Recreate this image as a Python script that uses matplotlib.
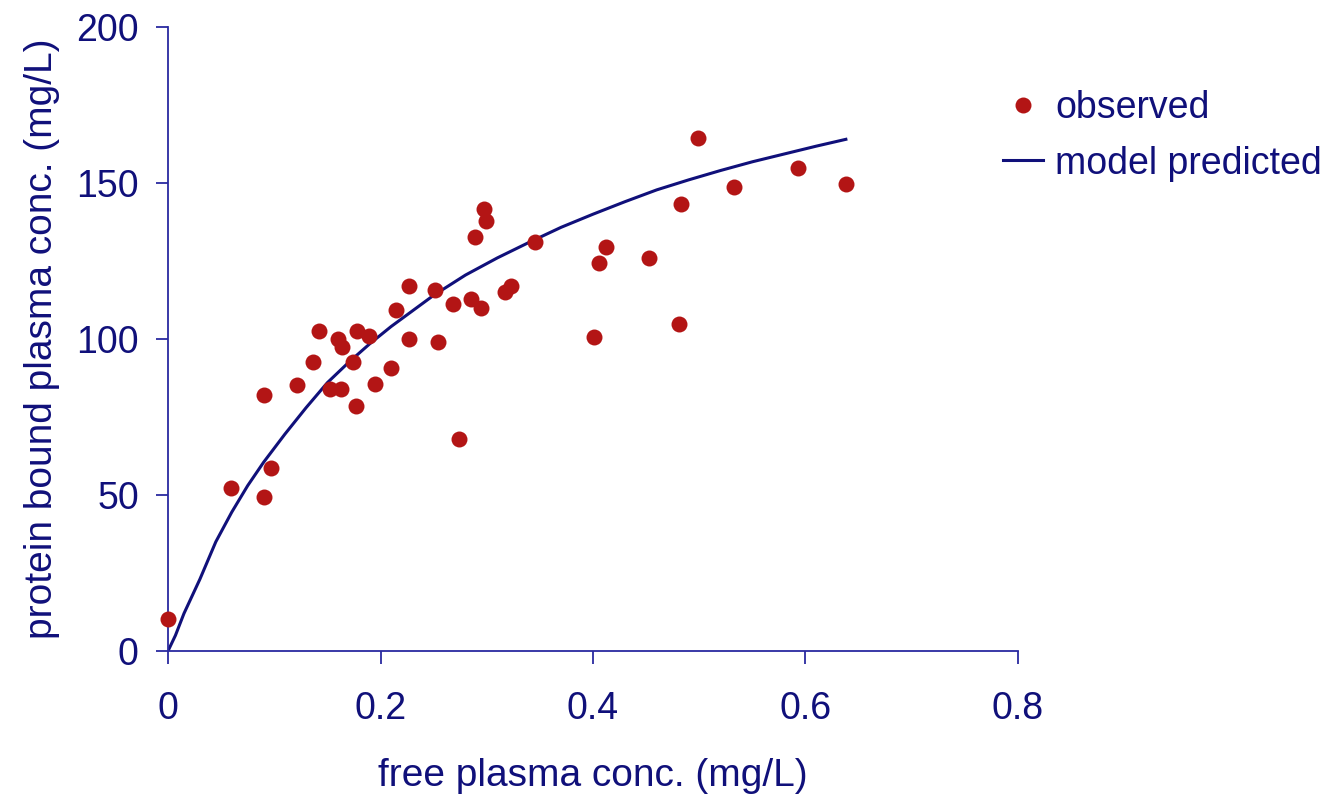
import matplotlib
matplotlib.use("Agg")
import matplotlib.pyplot as plt

# observed points: free conc (mg/L) vs protein bound conc (mg/L)
vaba_x = [0.0, 0.059, 0.090, 0.090, 0.097, 0.121, 0.136, 0.142, 0.152, 0.160,
          0.164, 0.163, 0.174, 0.178, 0.177, 0.189, 0.195, 0.210, 0.215, 0.227,
          0.227, 0.251, 0.254, 0.268, 0.274, 0.285, 0.289, 0.295, 0.297, 0.299,
          0.317, 0.323, 0.345, 0.401, 0.406, 0.412, 0.453, 0.481, 0.483, 0.499,
          0.533, 0.593, 0.638]
seotud_y = [10.3, 52.2, 82.0, 49.4, 58.7, 85.3, 92.6, 102.6, 84.0, 100.0,
            97.4, 84.0, 92.6, 102.6, 78.5, 101.0, 85.6, 90.7, 109.3, 117.0,
            100.0, 115.7, 99.0, 111.2, 68.0, 112.8, 132.7, 110.0, 141.7, 137.8,
            115.0, 117.0, 131.0, 100.6, 124.4, 129.5, 126.0, 104.8, 143.3, 164.4,
            148.7, 154.8, 149.7]

# model predicted curve
mudel_x = [0.0, 0.007, 0.015, 0.03, 0.045, 0.06, 0.075, 0.09, 0.11, 0.13,
           0.15, 0.17, 0.19, 0.21, 0.23, 0.25, 0.28, 0.31, 0.34, 0.37,
           0.40, 0.43, 0.46, 0.49, 0.52, 0.55, 0.58, 0.61, 0.638]
mudel_y = [0.0, 5.0, 12.0, 23.0, 35.0, 44.5, 53.0, 60.5, 69.5, 78.0,
           86.0, 92.5, 98.5, 104.0, 109.0, 114.0, 120.5, 126.0, 131.0, 135.8,
           140.0, 144.0, 147.8, 151.0, 154.0, 156.8, 159.3, 161.8, 164.0]

xtikid = [0, 0.2, 0.4, 0.6, 0.8]
ytikid = [0, 50, 100, 150, 200]

sinine = "#10107a"
punane = "#b31515"
suurus = 27

plt.rcParams["font.family"] = ["Liberation Sans", "DejaVu Sans"]

fig = plt.figure(figsize=(13.35, 7.95), dpi=100)
ax = fig.add_axes([168 / 1335, 1 - 651 / 795, 850 / 1335, 624 / 795])

ax.plot(mudel_x, mudel_y, color=sinine, lw=2.2, label="model predicted", zorder=2)
ax.plot(vaba_x, seotud_y, "o", color=punane, markersize=11.5, markeredgewidth=0,
        label="observed", zorder=3, clip_on=False)

ax.set_xlim(0, 0.8)
ax.set_ylim(0, 200)
ax.set_xticks(xtikid)
ax.set_xticklabels(["0", "0.2", "0.4", "0.6", "0.8"])
ax.set_yticks(ytikid)

for s in ["top", "right"]:
    ax.spines[s].set_visible(False)
for s in ["left", "bottom"]:
    ax.spines[s].set_color("#2a2aa0")
    ax.spines[s].set_linewidth(1.3)

ax.tick_params(axis="both", colors="#2a2aa0", labelcolor=sinine, labelsize=suurus,
               length=9, width=1.3, direction="out")
ax.tick_params(axis="x", pad=20)
ax.tick_params(axis="y", pad=12)

ax.set_xlabel("free plasma conc. (mg/L)", fontsize=28, color=sinine, labelpad=22)
ax.set_ylabel("protein bound plasma conc. (mg/L)", fontsize=28, color=sinine, labelpad=12)

kasitsejad, sildid = ax.get_legend_handles_labels()
leg = fig.legend(kasitsejad[::-1], sildid[::-1], loc="upper left",
                 bbox_to_anchor=(1003 / 1335, 1 - 90 / 795), frameon=False,
                 fontsize=suurus, labelcolor=sinine, handlelength=1.07,
                 handletextpad=0.32, labelspacing=0.52, borderpad=0,
                 borderaxespad=0)

fig.savefig("out.png", dpi=100)
